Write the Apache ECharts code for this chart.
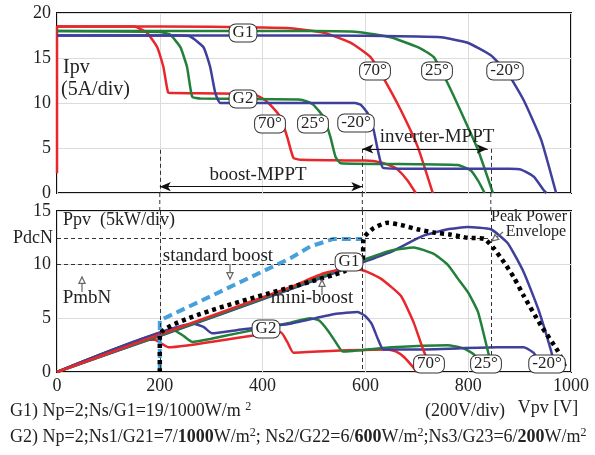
<!DOCTYPE html>
<html>
<head>
<meta charset="utf-8">
<script src="https://cdn.jsdelivr.net/npm/echarts@6/dist/echarts.min.js"></script>
<style>
html, body { margin: 0; padding: 0; background: #fff; }
#chart { width: 595px; height: 455px; }
</style>
</head>
<body>
<div id="chart"></div>
<script>
// I-V curves [Vpv (V), Ipv (A)] -- G1 = uniform irradiance, G2 = partial shading
const ivG1_70 = [[0, 2.2], [0, 18.5], [200, 18.5], [400, 18.4], [454, 18.3], [519, 17.8], [571, 16.7], [610, 15.1], [635, 12.8], [669, 9.2], [702, 5.1], [731, 0]]
const ivG1_25 = [[0, 18.0], [300, 18.0], [500, 18.0], [585, 17.9], [649, 17.3], [702, 16.2], [733, 15.1], [760, 12.2], [791, 8.4], [819, 4.8], [848, 0]]
const ivG1_m20 = [[0, 17.5], [500, 17.5], [700, 17.4], [747, 17.3], [799, 16.7], [844, 15.3], [877, 13.3], [908, 10.3], [942, 5.9], [971, 0]]
const ivG2_70 = [[0, 18.5], [150, 18.5], [175, 17.8], [195, 16.2], [207, 14.0], [216, 11.2], [226, 11.1], [380, 11.0], [400, 10.5], [415, 9.8], [435, 8.4], [448, 6.2], [460, 3.9], [474, 3.7], [600, 3.6], [630, 3.4], [650, 3.0], [663, 2.6], [682, 1.4], [698, 0]]
const ivG2_25 = [[0, 18.0], [200, 17.9], [220, 17.6], [240, 16.2], [253, 14.0], [263, 10.7], [279, 10.5], [470, 10.4], [485, 10.2], [499, 9.8], [519, 8.4], [532, 6.2], [542, 4.0], [552, 3.3], [700, 3.2], [780, 3.1], [805, 2.5], [820, 1.3], [832, 0]]
const ivG2_m20 = [[0, 17.5], [240, 17.5], [259, 17.4], [285, 16.2], [298, 14.0], [308, 11.1], [318, 10.0], [580, 10.0], [591, 9.8], [604, 8.9], [616, 7.0], [624, 4.8], [634, 2.8], [663, 2.7], [880, 2.7], [903, 2.6], [928, 1.8], [947, 0.3], [952, 0]]

// P-V curves [Vpv (V), Ppv (kW)]
const pvG1_70 = [[0, 0], [200, 3.5], [454, 7.9], [519, 9.2], [570, 9.7], [600, 9.4], [630, 8.7], [669, 7.1], [694, 4.6], [713, 2.0], [731, 0]]
const pvG1_25 = [[0, 0], [200, 3.4], [454, 7.8], [594, 10.4], [649, 11.3], [694, 11.6], [733, 11.0], [760, 10.0], [780, 8.7], [800, 7.4], [819, 5.6], [838, 2.0], [848, 0]]
const pvG1_m20 = [[0, 0], [200, 3.35], [454, 7.7], [594, 10.2], [650, 11.2], [713, 12.7], [760, 13.3], [799, 13.5], [844, 13.3], [877, 12.0], [908, 9.3], [936, 5.9], [961, 2.0], [971, 0]]
const pvG2_70 = [[0, 0], [175, 3.0], [190, 3.0], [205, 2.6], [217, 2.3], [435, 3.7], [448, 2.8], [460, 1.8], [552, 2.0], [643, 2.1], [660, 1.9], [675, 1.4], [692, 0.5], [700, 0]]
const pvG2_25 = [[0, 0], [227, 3.9], [245, 3.4], [263, 2.8], [300, 3.1], [350, 3.6], [454, 4.6], [493, 5.0], [510, 4.8], [528, 3.8], [546, 2.5], [556, 1.9], [650, 2.3], [760, 2.5], [791, 2.2], [812, 1.6], [825, 0]]
const pvG2_m20 = [[0, 0], [265, 4.5], [285, 4.2], [302, 3.6], [350, 3.9], [454, 4.5], [540, 5.4], [585, 5.6], [600, 5.2], [612, 4.5], [625, 3.0], [635, 2.1], [700, 2.1], [857, 2.3], [908, 2.3], [928, 1.75], [945, 0]]
const peakEnvelope = [[200, 0], [200, 3.4], [560, 9.4], [594, 10.4], [597, 12.5], [616, 13.4], [643, 13.9], [669, 13.7], [701, 13.3], [733, 13.0], [766, 12.8], [799, 12.5], [831, 12.4], [850, 11.5], [870, 10.2], [889, 8.8], [908, 7.1], [942, 4.3], [975, 1.9], [990, 0.3]]
const standardBoost = [[200, 0], [200, 4.8], [454, 10.6], [493, 11.7], [538, 12.4], [594, 12.4]]

// axis ticks / reference levels
const ivTicks = [0, 5, 10, 15, 20]
const pvTicks = [0, 5, 10, 15]
const vTicks = [0, 200, 400, 600, 800, 1000]
const pdcN = 12.5
const pmbN = 10
const vBoost = 200
const vMini = 594
const vInv = 844

const RED = '#e8262b'
const GREEN = '#23803a'
const BLUE = '#3f3f9c'
const SERIF = '"Liberation Serif", "DejaVu Serif", serif'
const INK = '#222'

const chart = echarts.init(document.getElementById('chart'))

const curve = (data, color, idx, extra) => Object.assign({
  type: 'line',
  xAxisIndex: idx,
  yAxisIndex: idx,
  data: data,
  symbol: 'none',
  smooth: 0.15,
  lineStyle: { color: color, width: 2.5 },
  z: 3,
  silent: true,
}, extra || {})

const dashed = { color: '#333', width: 1, type: [4, 3] }

// helper series that only carry mark lines
const marks = (idx, lines, style, extra) => Object.assign({
  type: 'line',
  xAxisIndex: idx,
  yAxisIndex: idx,
  data: [],
  silent: true,
  markLine: {
    silent: true,
    symbol: 'none',
    label: { show: false },
    lineStyle: style,
    data: lines.map((l) => [{ coord: l[0] }, { coord: l[1] }]),
  },
}, extra || {})

const yAxisBase = (idx, max, ticks) => ({
  type: 'value',
  gridIndex: idx,
  min: 0,
  max: max,
  interval: 5,
  axisLine: { show: false },
  axisTick: { show: false },
  axisLabel: {
    color: INK, fontFamily: SERIF, fontSize: 18, margin: 6,
    formatter: (v) => (ticks.indexOf(v) >= 0 ? String(v) : ''),
  },
  splitLine: { show: true, lineStyle: { color: '#dcdcdc', width: 1 } },
})

const xAxisBase = (idx, showLabel) => ({
  type: 'value',
  gridIndex: idx,
  min: 0,
  max: 1000,
  interval: 200,
  axisLine: { show: false },
  axisTick: { show: false },
  axisLabel: {
    show: showLabel, color: INK, fontFamily: SERIF, fontSize: 18, margin: 5,
    formatter: (v) => (vTicks.indexOf(v) >= 0 ? String(v) : ''),
  },
  splitLine: { show: true, lineStyle: { color: '#dcdcdc', width: 1 } },
})

chart.setOption({
  animation: false,
  backgroundColor: '#fff',
  grid: [
    { left: 57, top: 13, width: 514, height: 180, show: true, borderColor: '#111', borderWidth: 2, backgroundColor: 'transparent' },
    { left: 57, top: 211, width: 514, height: 161, show: true, borderColor: '#111', borderWidth: 2, backgroundColor: 'transparent' },
  ],
  xAxis: [xAxisBase(0, false), xAxisBase(1, true)],
  yAxis: [yAxisBase(0, 20, ivTicks), yAxisBase(1, 15, pvTicks)],
  series: [
    curve(ivG1_70, RED, 0, { clip: false }),
    curve(ivG1_25, GREEN, 0),
    curve(ivG1_m20, BLUE, 0),
    curve(ivG2_70, RED, 0),
    curve(ivG2_25, GREEN, 0),
    curve(ivG2_m20, BLUE, 0),
    marks(0, [
      [[vBoost, 4.8], [vBoost, 0]],
      [[vMini, 4.9], [vMini, 0]],
      [[vInv, 4.9], [vInv, 0]],
    ], dashed),
    marks(0, [], null, {
      markLine: {
        silent: true,
        symbol: ['arrow', 'arrow'],
        symbolSize: [7, 11],
        label: { show: false },
        lineStyle: { color: '#111', width: 1, type: 'solid' },
        data: [
          [{ coord: [vBoost, 0.7] }, { coord: [vMini, 0.7] }],
          [{ coord: [vMini, 4.9] }, { coord: [838, 4.9] }],
        ],
      },
    }),

    marks(1, [
      [[vBoost, 15], [vBoost, 0]],
      [[vMini, 15], [vMini, 0]],
      [[vInv, 15], [vInv, 0]],
      [[0, pmbN], [vMini, pmbN]],
    ], dashed),
    marks(1, [], null, {
      markLine: {
        silent: true,
        symbol: 'none',
        lineStyle: dashed,
        label: { show: true, position: 'start', formatter: 'PdcN', color: INK, fontFamily: SERIF, fontSize: 18, distance: 4 },
        data: [[{ coord: [0, pdcN] }, { coord: [vInv, pdcN] }]],
      },
    }),
    curve(pvG2_70, RED, 1),
    curve(pvG2_25, GREEN, 1),
    curve(pvG2_m20, BLUE, 1),
    curve(pvG1_m20, BLUE, 1),
    curve(pvG1_25, GREEN, 1),
    curve(pvG1_70, RED, 1),
    curve(standardBoost, '#45a0dc', 1, { smooth: false, clip: false, lineStyle: { color: '#45a0dc', width: 4, type: [9, 5] }, z: 4 }),
    curve(peakEnvelope, '#000', 1, { smooth: 0.2, clip: false, lineStyle: { color: '#000', width: 4.5, type: [4, 4] }, z: 5 }),
  ],
})

// ---------- annotations ----------
const txt = (text, x, y, opt) => ({
  type: 'text',
  x: x,
  y: y,
  z: 20,
  style: Object.assign({
    text: text,
    font: '18px ' + SERIF,
    fill: INK,
    align: 'center',
    verticalAlign: 'middle',
  }, opt || {}),
})

const box = (text, x, y) => txt(text, x, y, {
  font: '17px ' + SERIF,
  lineHeight: 16,
  backgroundColor: '#fff',
  borderColor: '#333',
  borderWidth: 1,
  borderRadius: 6,
  padding: [1, 3, 0, 3],
})

const arrow = (x1, y1, x2, y2) => {
  const ang = Math.atan2(y2 - y1, x2 - x1)
  const L = 7
  const a = 0.45
  const p1 = [x2 - L * Math.cos(ang - a), y2 - L * Math.sin(ang - a)]
  const p2 = [x2 - L * Math.cos(ang + a), y2 - L * Math.sin(ang + a)]
  return [
    { type: 'line', z: 20, shape: { x1: x1, y1: y1, x2: x2, y2: y2 }, style: { stroke: '#666', lineWidth: 1.2 } },
    { type: 'polygon', z: 20, shape: { points: [p1, [x2, y2], p2] }, style: { stroke: '#666', fill: '#fff', lineWidth: 1.2 } },
  ]
}

// dashed verticals running through the gap between the two plots
const gapLines = [vBoost, vMini, vInv].map((v) => {
  const top = chart.convertToPixel({ xAxisIndex: 0, yAxisIndex: 0 }, [v, 0])
  const bot = chart.convertToPixel({ xAxisIndex: 1, yAxisIndex: 1 }, [v, 15])
  return {
    type: 'line', z: 2,
    shape: { x1: top[0], y1: top[1], x2: bot[0], y2: bot[1] },
    style: { stroke: '#333', lineWidth: 1, lineDash: [4, 3] },
  }
})

const supStyle = { fontSize: 12, fontFamily: SERIF, fill: INK, padding: [0, 0, 9, 0] }
const boldStyle = { fontSize: 18, fontFamily: SERIF, fontWeight: 'bold', fill: INK }

const footLine = (text, y) => ({
  type: 'text', x: 10, y: y, z: 20,
  style: {
    text: text,
    font: '18px ' + SERIF,
    fill: INK,
    align: 'left',
    verticalAlign: 'middle',
    rich: { s: supStyle, b: boldStyle },
  },
})

chart.setOption({
  graphic: [
    ...gapLines,
    txt('Ipv', 63, 68, { align: 'left', font: '20px ' + SERIF }),
    txt('(5A/div)', 61, 90, { align: 'left', font: '20px ' + SERIF }),
    box('G1', 243, 33),
    box('G2', 243, 99),
    box('70°', 375, 71),
    box('25°', 437, 71),
    box('-20°', 505, 71),
    box('70°', 270, 124),
    box('25°', 313, 124),
    box('-20°', 356, 123),
    txt('inverter-MPPT', 437, 137, { font: '19px ' + SERIF }),
    txt('boost-MPPT', 258, 175, { font: '19px ' + SERIF }),

    txt('Ppv  (5kW/div)', 63, 220, { align: 'left' }),
    txt('standard boost', 218, 256, { font: '19px ' + SERIF }),
    txt('mini-boost', 312, 298, { font: '19px ' + SERIF }),
    txt('PmbN', 87, 298, { font: '19px ' + SERIF }),
    ...arrow(82, 292, 82, 277),
    ...arrow(230, 264, 230, 279),
    ...arrow(322, 295, 322, 280),
    ...arrow(503, 232, 492, 241),
    txt('Peak Power', 529, 217, { font: '16px ' + SERIF }),
    txt('Envelope', 536, 232, { font: '16px ' + SERIF }),
    box('G1', 349, 262),
    box('G2', 266, 329),
    box('70°', 429, 364),
    box('25°', 486, 364),
    box('-20°', 547, 364),

    txt('(200V/div)', 465, 411),
    txt('Vpv [V]', 548, 408),
    footLine('G1) Np=2;Ns/G1=19/1000W/m {s|2}', 411),
    footLine('G2) Np=2;Ns1/G21=7/{b|1000}W/m{s|2}; Ns2/G22=6/{b|600}W/m{s|2};Ns3/G23=6/{b|200}W/m{s|2}', 437),
  ],
})
</script>
</body>
</html>
